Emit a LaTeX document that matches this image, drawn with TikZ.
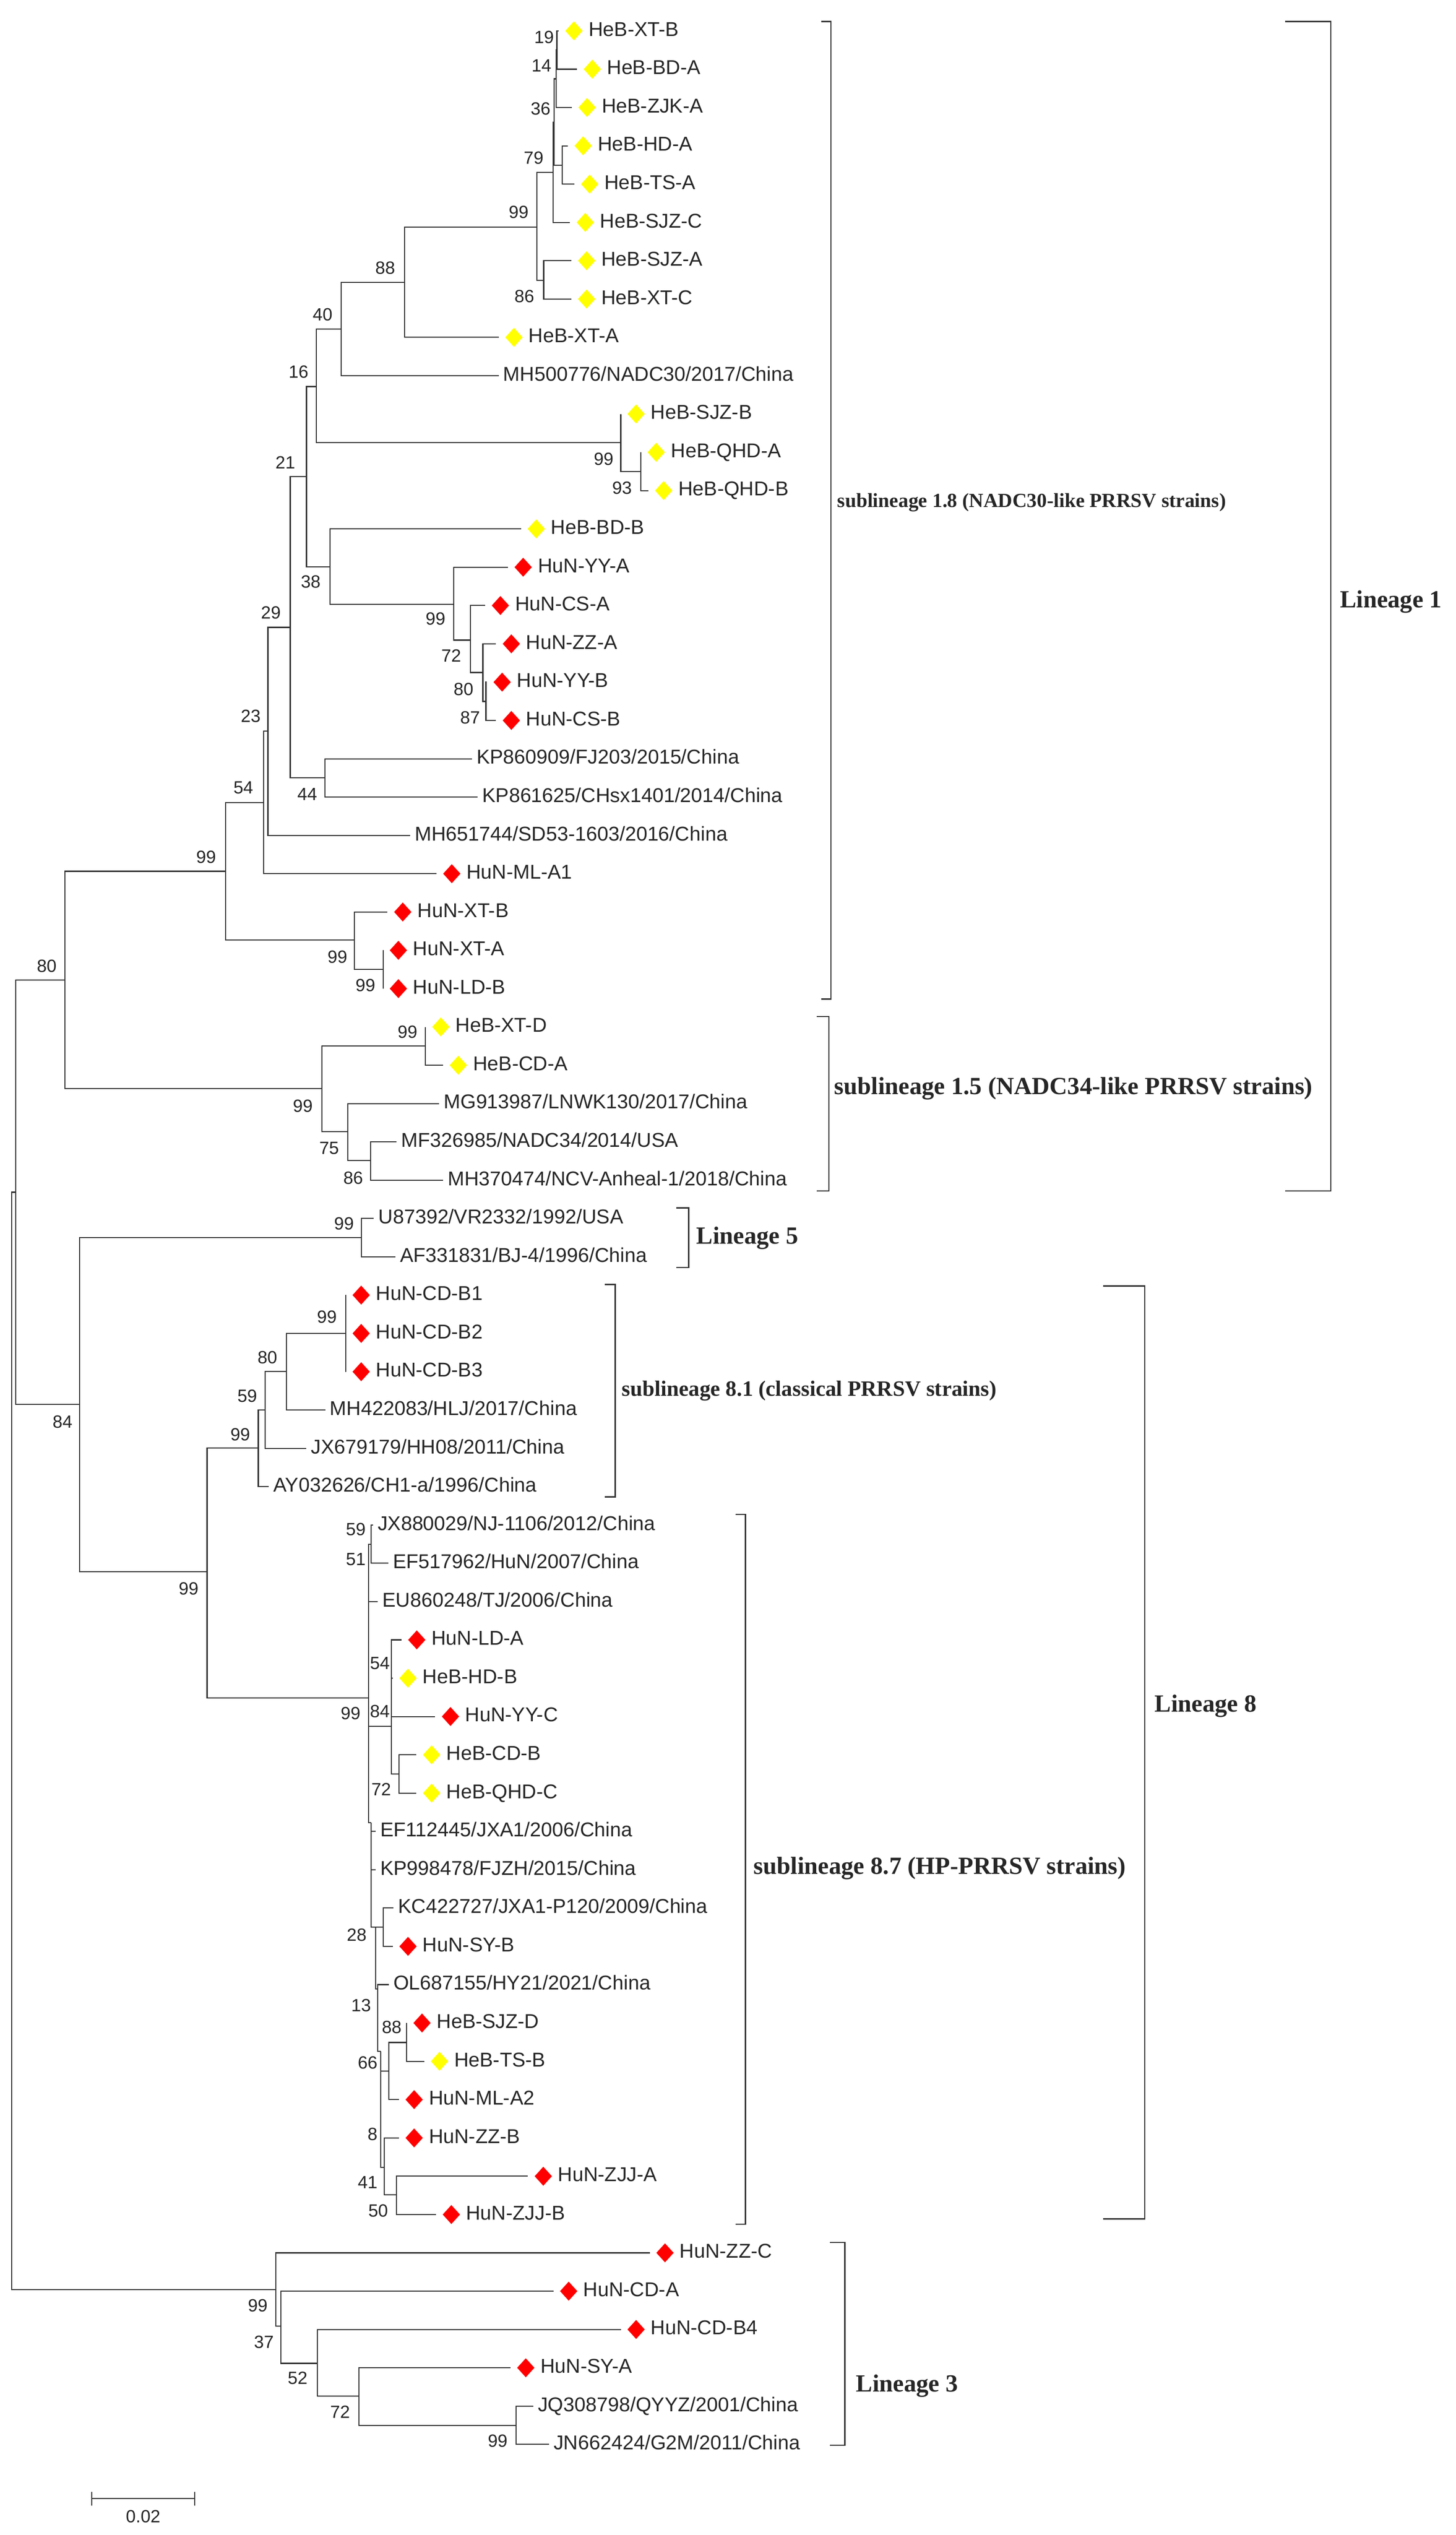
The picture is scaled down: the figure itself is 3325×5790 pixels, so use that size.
\documentclass[tikz,border=0pt]{standalone}
\usepackage{fontspec}
\setmainfont{Liberation Serif}
\newfontfamily\sansf{Liberation Sans}
\usetikzlibrary{shapes.geometric}
\definecolor{lnc}{HTML}{333333}
\definecolor{dyel}{HTML}{FFFF00}
\definecolor{dred}{HTML}{FF0000}
\newcommand\lfD[5]{\coordinate (#1) at (#4,#3);
  \node[dia,fill=#2] (#1m) at ({#4+35},#3) {};
  \node[lbl] (#1t) at ({#4+68},{#3+12}) {#5};}
\newcommand\lfT[4]{\coordinate (#1) at (#3,#2);
  \node[lbl] (#1t) at ({#3+10},{#2+12}) {#4};}
\begin{document}
\begin{tikzpicture}[x=0.01cm,y=-0.01cm,
 br/.style={draw=lnc,line width=0.7pt},
 brk/.style={draw=lnc,line width=0.8pt},
 dia/.style={diamond,draw=none,minimum width=0.40cm,minimum height=0.44cm,inner sep=0pt},
 lbl/.style={anchor=base west,inner sep=0pt,font=\sansf\fontsize{13pt}{15pt}\selectfont,text=black!85},
 bs/.style={anchor=east,inner sep=0pt,font=\sansf\fontsize{11.5pt}{13pt}\selectfont,text=black!85},
 grp/.style={anchor=west,inner sep=0pt,font=\bfseries\fontsize{16pt}{18pt}\selectfont,text=black!85},
 mgrp/.style={anchor=west,inner sep=0pt,font=\bfseries\fontsize{14.2pt}{16pt}\selectfont,text=black!85},
 sgrp/.style={anchor=west,inner sep=0pt,font=\bfseries\fontsize{13pt}{15pt}\selectfont,text=black!85}]
\useasboundingbox[fill=white] (0,0) rectangle (3325,5790);
% ---------------- leaves ----------------
\lfD{L1}{dyel}{70.5}{1276}{HeB-XT-B}
\lfD{L2}{dyel}{158}{1318}{HeB-BD-A}
\lfD{L3}{dyel}{245.5}{1306}{HeB-ZJK-A}
\lfD{L4}{dyel}{333}{1297}{HeB-HD-A}
\lfD{L5}{dyel}{420.5}{1312}{HeB-TS-A}
\lfD{L6}{dyel}{508}{1302}{HeB-SJZ-C}
\lfD{L7}{dyel}{595.5}{1305}{HeB-SJZ-A}
\lfD{L8}{dyel}{683}{1305}{HeB-XT-C}
\lfD{L9}{dyel}{770.5}{1139}{HeB-XT-A}
\lfT{L10}{858}{1139}{MH500776/NADC30/2017/China}
\lfD{L11}{dyel}{945.5}{1418}{HeB-SJZ-B}
\lfD{L12}{dyel}{1033}{1464}{HeB-QHD-A}
\lfD{L13}{dyel}{1120.5}{1481}{HeB-QHD-B}
\lfD{L14}{dyel}{1208}{1190}{HeB-BD-B}
\lfD{L15}{dred}{1295.5}{1160}{HuN-YY-A}
\lfD{L16}{dred}{1383}{1108}{HuN-CS-A}
\lfD{L17}{dred}{1470.5}{1133}{HuN-ZZ-A}
\lfD{L18}{dred}{1558}{1112}{HuN-YY-B}
\lfD{L19}{dred}{1645.5}{1133}{HuN-CS-B}
\lfT{L20}{1733}{1078}{KP860909/FJ203/2015/China}
\lfT{L21}{1820.5}{1091}{KP861625/CHsx1401/2014/China}
\lfT{L22}{1908}{937}{MH651744/SD53-1603/2016/China}
\lfD{L23}{dred}{1995.5}{997}{HuN-ML-A1}
\lfD{L24}{dred}{2083}{885}{HuN-XT-B}
\lfD{L25}{dred}{2170.5}{875}{HuN-XT-A}
\lfD{L26}{dred}{2258}{875}{HuN-LD-B}
\lfD{L27}{dyel}{2345.5}{972}{HeB-XT-D}
\lfD{L28}{dyel}{2433}{1012}{HeB-CD-A}
\lfT{L29}{2520.5}{1003}{MG913987/LNWK130/2017/China}
\lfT{L30}{2608}{906}{MF326985/NADC34/2014/USA}
\lfT{L31}{2695.5}{1012}{MH370474/NCV-Anheal-1/2018/China}
\lfT{L32}{2783}{854}{U87392/VR2332/1992/USA}
\lfT{L33}{2870.5}{903}{AF331831/BJ-4/1996/China}
\lfD{L34}{dred}{2958}{790}{HuN-CD-B1}
\lfD{L35}{dred}{3045.5}{790}{HuN-CD-B2}
\lfD{L36}{dred}{3133}{790}{HuN-CD-B3}
\lfT{L37}{3220.5}{743}{MH422083/HLJ/2017/China}
\lfT{L38}{3308}{700}{JX679179/HH08/2011/China}
\lfT{L39}{3395.5}{614}{AY032626/CH1-a/1996/China}
\lfT{L40}{3483}{852}{JX880029/NJ-1106/2012/China}
\lfT{L41}{3570.5}{887}{EF517962/HuN/2007/China}
\lfT{L42}{3658}{863}{EU860248/TJ/2006/China}
\lfD{L43}{dred}{3745.5}{917}{HuN-LD-A}
\lfD{L44}{dyel}{3833}{897}{HeB-HD-B}
\lfD{L45}{dred}{3920.5}{994}{HuN-YY-C}
\lfD{L46}{dyel}{4008}{951}{HeB-CD-B}
\lfD{L47}{dyel}{4095.5}{951}{HeB-QHD-C}
\lfT{L48}{4183}{858}{EF112445/JXA1/2006/China}
\lfT{L49}{4270.5}{858}{KP998478/FJZH/2015/China}
\lfT{L50}{4358}{899}{KC422727/JXA1-P120/2009/China}
\lfD{L51}{dred}{4445.5}{897}{HuN-SY-B}
\lfT{L52}{4533}{888}{OL687155/HY21/2021/China}
\lfD{L53}{dred}{4620.5}{929}{HeB-SJZ-D}
\lfD{L54}{dyel}{4708}{969}{HeB-TS-B}
\lfD{L55}{dred}{4795.5}{911}{HuN-ML-A2}
\lfD{L56}{dred}{4883}{911}{HuN-ZZ-B}
\lfD{L57}{dred}{4970.5}{1206}{HuN-ZJJ-A}
\lfD{L58}{dred}{5058}{996}{HuN-ZJJ-B}
\lfD{L59}{dred}{5145.5}{1484}{HuN-ZZ-C}
\lfD{L60}{dred}{5233}{1264}{HuN-CD-A}
\lfD{L61}{dred}{5320.5}{1418}{HuN-CD-B4}
\lfD{L62}{dred}{5408}{1166}{HuN-SY-A}
\lfT{L63}{5495.5}{1218}{JQ308798/QYYZ/2001/China}
\lfT{L64}{5583}{1254}{JN662424/G2M/2011/China}
% ---------------- internal nodes ----------------
\coordinate (n19) at (1272,114);
\coordinate (n14) at (1270,180);
\coordinate (nHT) at (1284,377);
\coordinate (n36) at (1266,279);
\coordinate (n79) at (1263,394);
\coordinate (n86a) at (1242,640);
\coordinate (n99a) at (1226,519);
\coordinate (n88) at (924,645);
\coordinate (n40) at (779,752);
\coordinate (nQHD) at (1464,1077);
\coordinate (n99b) at (1418,1011);
\coordinate (n16) at (723,883);
\coordinate (n87) at (1110,1602);
\coordinate (n80b) at (1103,1536);
\coordinate (n72a) at (1075,1462);
\coordinate (n99c) at (1036,1380);
\coordinate (n38) at (754,1295);
\coordinate (n21) at (700,1089);
\coordinate (n44) at (742,1776);
\coordinate (n29) at (663,1433);
\coordinate (n23) at (612,1670);
\coordinate (n54) at (602,1833);
\coordinate (n99f) at (875,2214);
\coordinate (n99e) at (809,2147);
\coordinate (n99d) at (515,1990);
\coordinate (n99h) at (972,2389);
\coordinate (n86b) at (846,2651);
\coordinate (n75) at (794,2585);
\coordinate (n99g) at (735,2486);
\coordinate (n80r) at (148,2238);
\coordinate (n99i) at (826,2827);
\coordinate (n99k) at (790,3045);
\coordinate (n80c) at (654,3132);
\coordinate (n59) at (606,3220);
\coordinate (n99l) at (590,3307);
\coordinate (n59b) at (848,3527);
\coordinate (n72b) at (911,4052);
\coordinate (n84b) at (894,3943);
\coordinate (n99m) at (842,3878);
\coordinate (m1) at (848,4163);
\coordinate (n28) at (875,4402);
\coordinate (m2) at (858,4402);
\coordinate (m3) at (863,4543);
\coordinate (n88b) at (929,4665);
\coordinate (n66) at (888,4730);
\coordinate (m4) at (870,4685);
\coordinate (n50) at (906,5013);
\coordinate (m5) at (878,4950);
\coordinate (n99j) at (473,3590);
\coordinate (n84) at (182,3208);
\coordinate (nA) at (36,2723);
\coordinate (n99o) at (1179,5540);
\coordinate (n72c) at (820,5473);
\coordinate (n52) at (725,5398);
\coordinate (n37) at (642,5313);
\coordinate (n99n) at (630,5229);
\coordinate (root) at (27,3976);
% ---------------- branches ----------------
\draw[br] (n19) |- (L1) (n19) |- (L2);
\draw[br] (n14) |- (n19) (n14) |- (L3);
\draw[br] (nHT) |- (L4) (nHT) |- (L5);
\draw[br] (n36) |- (n14) (n36) |- (nHT);
\draw[br] (n79) |- (n36) (n79) |- (L6);
\draw[br] (n86a) |- (L7) (n86a) |- (L8);
\draw[br] (n99a) |- (n79) (n99a) |- (n86a);
\draw[br] (n88) |- (n99a) (n88) |- (L9);
\draw[br] (n40) |- (n88) (n40) |- (L10);
\draw[br] (nQHD) |- (L12) (nQHD) |- (L13);
\draw[br] (n99b) |- (L11) (n99b) |- (nQHD);
\draw[br] (n16) |- (n40) (n16) |- (n99b);
\draw[br] (n87) |- (L18) (n87) |- (L19);
\draw[br] (n80b) |- (L17) (n80b) |- (n87);
\draw[br] (n72a) |- (L16) (n72a) |- (n80b);
\draw[br] (n99c) |- (L15) (n99c) |- (n72a);
\draw[br] (n38) |- (L14) (n38) |- (n99c);
\draw[br] (n21) |- (n16) (n21) |- (n38);
\draw[br] (n44) |- (L20) (n44) |- (L21);
\draw[br] (n29) |- (n21) (n29) |- (n44);
\draw[br] (n23) |- (n29) (n23) |- (L22);
\draw[br] (n54) |- (n23) (n54) |- (L23);
\draw[br] (n99f) |- (L25) (n99f) |- (L26);
\draw[br] (n99e) |- (L24) (n99e) |- (n99f);
\draw[br] (n99d) |- (n54) (n99d) |- (n99e);
\draw[br] (n99h) |- (L27) (n99h) |- (L28);
\draw[br] (n86b) |- (L30) (n86b) |- (L31);
\draw[br] (n75) |- (L29) (n75) |- (n86b);
\draw[br] (n99g) |- (n99h) (n99g) |- (n75);
\draw[br] (n80r) |- (n99d) (n80r) |- (n99g);
\draw[br] (n99i) |- (L32) (n99i) |- (L33);
\draw[br] (n99k) |- (L34) (n99k) |- (L35) (n99k) |- (L36);
\draw[br] (n80c) |- (n99k) (n80c) |- (L37);
\draw[br] (n59) |- (n80c) (n59) |- (L38);
\draw[br] (n99l) |- (n59) (n99l) |- (L39);
\draw[br] (n59b) |- (L40) (n59b) |- (L41);
\draw[br] (n72b) |- (L46) (n72b) |- (L47);
\draw[br] (n84b) |- (L43) (n84b) |- (L44) (n84b) |- (L45) (n84b) |- (n72b);
\draw[br] (n99m) |- (n59b) (n99m) |- (L42) (n99m) |- (n84b) (n99m) |- (m1);
\draw[br] (m1) |- (L48) (m1) |- (L49) (m1) |- (m2);
\draw[br] (n28) |- (L50) (n28) |- (L51);
\draw[br] (m2) |- (n28) (m2) |- (m3);
\draw[br] (m3) |- (L52) (m3) |- (m4);
\draw[br] (n88b) |- (L53) (n88b) |- (L54);
\draw[br] (n66) |- (n88b) (n66) |- (L55);
\draw[br] (m4) |- (n66) (m4) |- (m5);
\draw[br] (n50) |- (L57) (n50) |- (L58);
\draw[br] (m5) |- (L56) (m5) |- (n50);
\draw[br] (n99j) |- (n99l) (n99j) |- (n99m);
\draw[br] (n84) |- (n99i) (n84) |- (n99j);
\draw[br] (nA) |- (n80r) (nA) |- (n84);
\draw[br] (n99o) |- (L63) (n99o) |- (L64);
\draw[br] (n72c) |- (L62) (n72c) |- (n99o);
\draw[br] (n52) |- (L61) (n52) |- (n72c);
\draw[br] (n37) |- (L60) (n37) |- (n52);
\draw[br] (n99n) |- (L59) (n99n) |- (n37);
\draw[br] (root) |- (nA) (root) |- (n99n);
% ---------------- bootstrap values ----------------
\node[bs] (b1) at (1266,85) {19};
\node[bs] (b2) at (1260,150) {14};
\node[bs] (b3) at (1258,248) {36};
\node[bs] (b4) at (1242,361) {79};
\node[bs] (b5) at (1208,485) {99};
\node[bs] (b6) at (903,612) {88};
\node[bs] (b7) at (1221,677) {86};
\node[bs] (b8) at (760,718) {40};
\node[bs] (b9) at (705,849) {16};
\node[bs] (b10) at (1402,1049) {99};
\node[bs] (b11) at (1444,1114) {93};
\node[bs] (b12) at (675,1057) {21};
\node[bs] (b13) at (733,1329) {38};
\node[bs] (b14) at (642,1399) {29};
\node[bs] (b15) at (1018,1413) {99};
\node[bs] (b16) at (1054,1498) {72};
\node[bs] (b17) at (1082,1574) {80};
\node[bs] (b18) at (1097,1639) {87};
\node[bs] (b19) at (596,1636) {23};
\node[bs] (b20) at (725,1814) {44};
\node[bs] (b21) at (579,1799) {54};
\node[bs] (b22) at (494,1957) {99};
\node[bs] (b23) at (794,2186) {99};
\node[bs] (b24) at (858,2251) {99};
\node[bs] (b25) at (130,2207) {80};
\node[bs] (b26) at (954,2357) {99};
\node[bs] (b27) at (715,2526) {99};
\node[bs] (b28) at (775,2623) {75};
\node[bs] (b29) at (830,2690) {86};
\node[bs] (b30) at (809,2795) {99};
\node[bs] (b31) at (770,3008) {99};
\node[bs] (b32) at (634,3101) {80};
\node[bs] (b33) at (588,3188) {59};
\node[bs] (b34) at (572,3276) {99};
\node[bs] (b35) at (166,3247) {84};
\node[bs] (b36) at (836,3493) {59};
\node[bs] (b37) at (836,3561) {51};
\node[bs] (b38) at (454,3629) {99};
\node[bs] (b39) at (891,3799) {54};
\node[bs] (b40) at (824,3913) {99};
\node[bs] (b41) at (891,3909) {84};
\node[bs] (b42) at (894,4087) {72};
\node[bs] (b43) at (838,4419) {28};
\node[bs] (b44) at (848,4580) {13};
\node[bs] (b45) at (918,4630) {88};
\node[bs] (b46) at (863,4711) {66};
\node[bs] (b47) at (863,4874) {8};
\node[bs] (b48) at (863,4984) {41};
\node[bs] (b49) at (887,5049) {50};
\node[bs] (b50) at (612,5266) {99};
\node[bs] (b51) at (626,5349) {37};
\node[bs] (b52) at (703,5432) {52};
\node[bs] (b53) at (800,5509) {72};
\node[bs] (b54) at (1160,5575) {99};
% ---------------- group brackets ----------------
\draw[brk] (1876,49) -- (1898,49) -- (1898,2282) -- (1876,2282);
\node[sgrp] (g18) at (1912,1148) {sublineage 1.8 (NADC30-like PRRSV strains)};
\draw[brk] (1866,2322) -- (1893,2322) -- (1893,2720) -- (1866,2720);
\node[grp] (g15) at (1905,2486) {sublineage 1.5 (NADC34-like PRRSV strains)};
\draw[brk] (2935,49) -- (3040,49) -- (3040,2720) -- (2935,2720);
\node[grp] (gL1) at (3060,1374) {Lineage 1};
\draw[brk] (1545,2759) -- (1573,2759) -- (1573,2895) -- (1545,2895);
\node[grp] (gL5) at (1590,2828) {Lineage 5};
\draw[brk] (1381,2934) -- (1405,2934) -- (1405,3419) -- (1381,3419);
\node[mgrp] (g81) at (1420,3177) {sublineage 8.1 (classical PRRSV strains)};
\draw[brk] (1680,3459) -- (1703,3459) -- (1703,5080) -- (1680,5080);
\node[grp] (g87) at (1721,4267) {sublineage 8.7 (HP-PRRSV strains)};
\draw[brk] (2520,2937) -- (2615,2937) -- (2615,5068) -- (2520,5068);
\node[grp] (gL8) at (2637,3897) {Lineage 8};
\draw[brk] (1896,5122) -- (1930,5122) -- (1930,5585) -- (1896,5585);
\node[grp] (gL3) at (1955,5450) {Lineage 3};
% ---------------- scale bar ----------------
\coordinate (sb1) at (210,5707);
\coordinate (sb2) at (445,5707);
\draw[br] (sb1) -- (sb2);
\draw[br] (210,5691) -- (210,5723) (445,5691) -- (445,5723);
\node[bs,anchor=center] (sbl) at (327,5748) {0.02};
\end{tikzpicture}
\end{document}
